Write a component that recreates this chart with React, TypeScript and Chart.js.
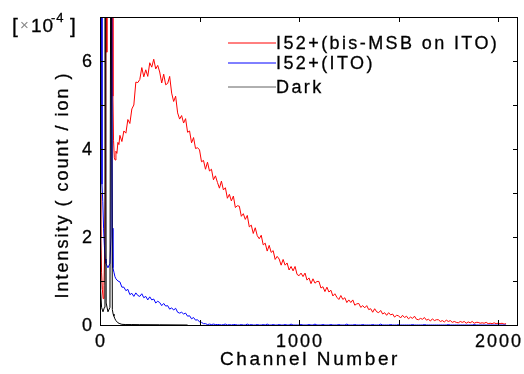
import React, { useEffect, useRef } from 'react';
import { Chart, registerables } from 'chart.js';

Chart.register(...registerables);

// ---------- data (intensity in units of 1e-4 count/ion) ----------
const seriesLabels = ['I52+(bis-MSB on ITO)', 'I52+(ITO)', 'Dark'];
const seriesColors = ['#ff0000', '#0000ff', '#000000'];

const xTickValues = [0, 500, 1000, 1500, 2000];
const xTickLabels = ['0', '', '1000', '', '2000'];
const yTickValues = [0, 1, 2, 3, 4, 5, 6, 7];
const yTickLabels = ['0', '', '2', '', '4', '', '6', ''];

const redHeadChannels = [0, 4, 8, 12, 16, 20, 24, 28, 31, 34, 37, 45, 55, 62, 65, 68, 72, 76, 80, 85, 90, 95];
const redHeadValues = [3.0, 2.0, 1.2, 0.8, 0.6, 0.9, 1.8, 3.5, 9, 6.2, 9, 9, 9, 9, 5.2, 4.2, 3.8, 3.75, 3.95, 3.9, 4.15, 4.1];

const blueHeadChannels = [0, 3, 8, 10, 14, 18, 22, 26, 30, 40, 50, 55, 59, 62, 65, 70, 75, 80, 90];
const blueHeadValues = [9, 9, 9, 3.2, 2.8, 2.2, 1.8, 1.5, 1.4, 1.3, 1.4, 2.0, 9, 2.2, 1.3, 1.2, 1.1, 1.05, 1.0];

const darkChannels = [0, 3, 8, 15, 22, 25, 28, 31, 40, 50, 54, 57, 62, 66, 70, 75, 80, 90, 100, 110, 130, 160, 200, 300, 440];
const darkValues = [9, 0.8, 0.4, 0.3, 0.4, 9, 9, 0.5, 0.3, 0.4, 9, 9, 0.35, 0.25, 0.2, 0.14, 0.1, 0.05, 0.03, 0.015, 0.01, 0.01, 0.008, 0.005, 0];

const tailChannels = [
  100, 110, 120, 130, 140, 150, 160, 170, 180, 190,
  200, 210, 220, 230, 240, 250, 260, 270, 280, 290,
  300, 310, 320, 330, 340, 350, 360, 370, 380, 390,
  400, 410, 420, 430, 440, 450, 460, 470, 480, 490,
  500, 510, 520, 530, 540, 550, 560, 570, 580, 590,
  600, 610, 620, 630, 640, 650, 660, 670, 680, 690,
  700, 710, 720, 730, 740, 750, 760, 770, 780, 790,
  800, 810, 820, 830, 840, 850, 860, 870, 880, 890,
  900, 910, 920, 930, 940, 950, 960, 970, 980, 990,
  1000, 1010, 1020, 1030, 1040, 1050, 1060, 1070, 1080, 1090,
  1100, 1110, 1120, 1130, 1140, 1150, 1160, 1170, 1180, 1190,
  1200, 1210, 1220, 1230, 1240, 1250, 1260, 1270, 1280, 1290,
  1300, 1310, 1320, 1330, 1340, 1350, 1360, 1370, 1380, 1390,
  1400, 1410, 1420, 1430, 1440, 1450, 1460, 1470, 1480, 1490,
  1500, 1510, 1520, 1530, 1540, 1550, 1560, 1570, 1580, 1590,
  1600, 1610, 1620, 1630, 1640, 1650, 1660, 1670, 1680, 1690,
  1700, 1710, 1720, 1730, 1740, 1750, 1760, 1770, 1780, 1790,
  1800, 1810, 1820, 1830, 1840, 1850, 1860, 1870, 1880, 1890,
  1900, 1910, 1920, 1930, 1940, 1950, 1960, 1970, 1980, 1990,
  2000, 2010, 2020, 2030, 2040,
];

const redTailValues = [
  4.31, 4.17, 4.41, 4.36, 4.67, 4.58, 4.91, 5.0, 5.52, 5.51,
  5.58, 5.85, 5.64, 5.8, 5.65, 5.96, 5.86, 6.04, 5.82, 5.9,
  5.75, 5.5, 5.7, 5.46, 5.49, 5.65, 5.27, 5.08, 5.2, 4.82,
  4.68, 4.76, 4.59, 4.69, 4.38, 4.41, 4.14, 4.26, 4.01, 4.03,
  3.98, 3.71, 3.74, 3.54, 3.7, 3.5, 3.54, 3.3, 3.39, 3.24,
  3.11, 3.27, 3.07, 3.12, 2.88, 2.97, 2.82, 2.93, 2.67, 2.71,
  2.7, 2.47, 2.53, 2.4, 2.49, 2.23, 2.27, 2.08, 2.21, 2.03,
  1.96, 2.04, 1.82, 1.86, 1.68, 1.81, 1.65, 1.69, 1.49, 1.56,
  1.5, 1.36, 1.49, 1.36, 1.41, 1.25, 1.33, 1.23, 1.33, 1.15,
  1.12, 1.18, 1.1, 1.18, 1.02, 1.07, 0.94, 1.05, 0.95, 0.99,
  0.99, 0.84, 0.87, 0.76, 0.86, 0.75, 0.79, 0.66, 0.71, 0.63,
  0.58, 0.67, 0.58, 0.62, 0.51, 0.57, 0.51, 0.57, 0.45, 0.48,
  0.49, 0.4, 0.44, 0.39, 0.44, 0.35, 0.37, 0.29, 0.37, 0.3,
  0.28, 0.33, 0.25, 0.28, 0.22, 0.28, 0.23, 0.25, 0.18, 0.22,
  0.21, 0.16, 0.22, 0.17, 0.2, 0.14, 0.18, 0.15, 0.2, 0.13,
  0.12, 0.15, 0.13, 0.17, 0.11, 0.13, 0.09, 0.14, 0.1, 0.12,
  0.12, 0.08, 0.1, 0.07, 0.11, 0.08, 0.1, 0.06, 0.08, 0.06,
  0.05, 0.08, 0.06, 0.08, 0.04, 0.07, 0.05, 0.08, 0.04, 0.06,
  0.06, 0.04, 0.05, 0.04, 0.06, 0.03, 0.04, 0.03, 0.05, 0.03,
  0.04, 0.03, 0.04, 0.02, 0.03,
];

const blueTailValues = [
  0.98, 0.86, 0.86, 0.78, 0.81, 0.69, 0.72, 0.65, 0.73, 0.67,
  0.65, 0.71, 0.62, 0.65, 0.57, 0.64, 0.57, 0.59, 0.5, 0.54,
  0.51, 0.44, 0.49, 0.43, 0.44, 0.36, 0.39, 0.34, 0.38, 0.29,
  0.27, 0.29, 0.25, 0.27, 0.2, 0.21, 0.14, 0.17, 0.11, 0.12,
  0.07, 0.06, 0.03, 0.03, 0.01, 0.02, 0.01, 0.02, 0.01, 0.01,
  0.01, 0, 0.01, 0.02, 0, 0.01, 0, 0.01, 0.01, 0,
  0, 0.01, 0, 0, 0.02, 0, 0.01, 0, 0, 0.01,
  0, 0, 0.01, 0, 0.02, 0, 0, 0.01, 0, 0,
  0.01, 0, 0, 0.01, 0, 0, 0.02, 0, 0, 0,
  0, 0.01, 0, 0, 0, 0.01, 0, 0, 0.02, 0,
  0, 0, 0.01, 0, 0, 0, 0.01, 0, 0, 0,
  0.01, 0, 0, 0, 0.02, 0, 0, 0, 0.01, 0,
  0, 0, 0.01, 0, 0, 0, 0, 0.01, 0, 0,
  0, 0.02, 0, 0, 0, 0, 0.01, 0, 0, 0,
  0.01, 0, 0, 0, 0, 0, 0, 0.01, 0, 0,
  0, 0, 0, 0.01, 0, 0, 0, 0, 0, 0,
  0, 0, 0, 0, 0, 0.01, 0, 0, 0, 0,
  0, 0, 0, 0, 0, 0, 0, 0, 0.01, 0,
  0, 0, 0, 0, 0, 0, 0, 0, 0, 0,
  0, 0, 0, 0, 0,
];

const FONT = '"Liberation Sans", Arial, Helvetica, sans-serif';

function pts(ch: number[], vals: number[]) {
  return ch.map((c, i) => ({ x: c, y: vals[i] }));
}

function text(ctx: any, s: string, x: number, y: number) {
  ctx.fillText(s, x, y);
  ctx.strokeText(s, x, y);
}

const axesPlugin = {
  id: 'matlabAxes',
  afterDatasetsDraw(chart: any) {
    const { ctx, chartArea: a, scales } = chart;
    const xs = scales.x;
    const ys = scales.y;
    const L = Math.round(a.left), R = Math.round(a.right), T = Math.round(a.top), B = Math.round(a.bottom);
    ctx.save();
    ctx.strokeStyle = '#000';
    ctx.lineWidth = 1;
    ctx.strokeRect(L + 0.5, T + 0.5, R - L - 1, B - T);
    const tl = 5;
    ctx.beginPath();
    xTickValues.forEach((v) => {
      const px = Math.round(xs.getPixelForValue(v)) + 0.5;
      ctx.moveTo(px, B);
      ctx.lineTo(px, B - tl);
      ctx.moveTo(px, T);
      ctx.lineTo(px, T + tl);
    });
    yTickValues.forEach((v) => {
      const py = Math.round(ys.getPixelForValue(v)) + 0.5;
      ctx.moveTo(L, py);
      ctx.lineTo(L + tl, py);
      ctx.moveTo(R, py);
      ctx.lineTo(R - tl, py);
    });
    ctx.stroke();

    ctx.fillStyle = '#000';
    ctx.strokeStyle = '#000';
    ctx.lineWidth = 0.3;
    ctx.font = '18px ' + FONT;
    ctx.letterSpacing = '2px';
    ctx.textAlign = 'center';
    ctx.textBaseline = 'alphabetic';
    xTickValues.forEach((v, i) => {
      if (!xTickLabels[i]) return;
      text(ctx, xTickLabels[i], xs.getPixelForValue(v) + 1, 347);
    });
    ctx.textAlign = 'right';
    ctx.textBaseline = 'middle';
    yTickValues.forEach((v, i) => {
      if (!yTickLabels[i]) return;
      text(ctx, yTickLabels[i], 94, ys.getPixelForValue(v) + 1);
    });

    // x title
    ctx.font = '19px ' + FONT;
    ctx.letterSpacing = '2.6px';
    ctx.textAlign = 'center';
    ctx.textBaseline = 'alphabetic';
    text(ctx, 'Channel Number', (L + R) / 2 + 1, 365);

    // y title
    ctx.save();
    ctx.translate(63, 185);
    ctx.rotate(-Math.PI / 2);
    ctx.font = '18px ' + FONT;
    ctx.letterSpacing = '2px';
    ctx.textAlign = 'center';
    ctx.textBaseline = 'middle';
    text(ctx, 'Intensity ( count / ion )', 0, 0);
    ctx.restore();

    // exponent label [x10^-4]
    ctx.textAlign = 'left';
    ctx.textBaseline = 'alphabetic';
    ctx.letterSpacing = '0px';
    ctx.font = '21px ' + FONT;
    text(ctx, '[', 12, 33);
    ctx.fillStyle = '#888';
    ctx.font = '15px ' + FONT;
    ctx.fillText('\u00d7', 20, 30);
    ctx.fillStyle = '#000';
    ctx.font = '19px ' + FONT;
    ctx.letterSpacing = '1px';
    text(ctx, '10', 31, 32);
    ctx.font = '13px ' + FONT;
    text(ctx, '-4', 51, 22);
    ctx.letterSpacing = '0px';
    ctx.font = '21px ' + FONT;
    text(ctx, ']', 70, 33);

    // legend
    const ly = [43, 63, 87];
    const legendLineColors = ['#ff0000', '#0000ff', '#606060'];
    ctx.font = '18px ' + FONT;
    ctx.letterSpacing = '2.4px';
    ctx.textBaseline = 'middle';
    seriesLabels.forEach((lab, i) => {
      ctx.strokeStyle = legendLineColors[i];
      ctx.lineWidth = 1;
      ctx.beginPath();
      ctx.moveTo(228, ly[i]);
      ctx.lineTo(276, ly[i]);
      ctx.stroke();
      ctx.fillStyle = '#000';
      ctx.strokeStyle = '#000';
      ctx.lineWidth = 0.3;
      text(ctx, lab, 276, ly[i] + 1);
    });
    ctx.restore();
  },
};

export default function App() {
  const ref = useRef<HTMLCanvasElement | null>(null);
  useEffect(() => {
    if (!ref.current) return;
    const chart = new Chart(ref.current, {
      type: 'line',
      data: {
        datasets: [
          {
            label: seriesLabels[0],
            data: pts(redHeadChannels, redHeadValues).concat(pts(tailChannels, redTailValues)),
            borderColor: seriesColors[0],
            borderWidth: 1,
            pointRadius: 0,
            tension: 0,
            order: 3,
          },
          {
            label: seriesLabels[1],
            data: pts(blueHeadChannels, blueHeadValues).concat(pts(tailChannels, blueTailValues)),
            borderColor: seriesColors[1],
            borderWidth: 1,
            pointRadius: 0,
            tension: 0,
            order: 2,
          },
          {
            label: seriesLabels[2],
            data: pts(darkChannels, darkValues),
            borderColor: seriesColors[2],
            borderWidth: 1,
            pointRadius: 0,
            tension: 0,
            order: 1,
          },
        ],
      },
      options: {
        responsive: false,
        animation: false,
        devicePixelRatio: 1,
        layout: { padding: { left: 100, right: 6, top: 17, bottom: 49 } },
        plugins: { legend: { display: false }, tooltip: { enabled: false } },
        scales: {
          x: { type: 'linear', min: 0, max: 2100, display: false },
          y: { type: 'linear', min: 0, max: 7, display: false },
        },
      },
      plugins: [axesPlugin],
    });
    return () => chart.destroy();
  }, []);
  return (
    <div style={{ position: 'fixed', left: 0, top: 0, width: 524, height: 374, background: '#fff' }}>
      <canvas ref={ref} width={524} height={374} style={{ display: 'block' }} />
    </div>
  );
}
